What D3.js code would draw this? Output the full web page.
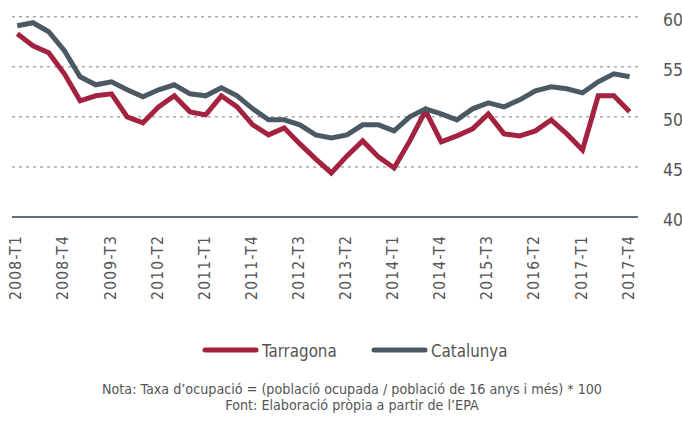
<!DOCTYPE html>
<html>
<head>
<meta charset="utf-8">
<script src="https://d3js.org/d3.v7.min.js"></script>
<style>
  body { margin: 0; background: #fff; }
  text { font-family: "DejaVu Sans Condensed", "Liberation Sans Narrow", sans-serif; fill: #555; }
  .grid line { stroke: #aaa; stroke-width: 1.5; stroke-dasharray: 3 4; }
</style>
</head>
<body>
<div id="chart"></div>
<script>
// quarters 2008-T1 .. 2017-T4
const quarters = [
  "2008-T1","2008-T2","2008-T3","2008-T4","2009-T1","2009-T2","2009-T3","2009-T4",
  "2010-T1","2010-T2","2010-T3","2010-T4","2011-T1","2011-T2","2011-T3","2011-T4",
  "2012-T1","2012-T2","2012-T3","2012-T4","2013-T1","2013-T2","2013-T3","2013-T4",
  "2014-T1","2014-T2","2014-T3","2014-T4","2015-T1","2015-T2","2015-T3","2015-T4",
  "2016-T1","2016-T2","2016-T3","2016-T4","2017-T1","2017-T2","2017-T3","2017-T4"
];
const tickLabels = ["2008-T1","2008-T4","2009-T3","2010-T2","2011-T1","2011-T4","2012-T3",
  "2013-T2","2014-T1","2014-T4","2015-T3","2016-T2","2017-T1","2017-T4"];

const tarragona = [58.3,57.1,56.4,54.3,51.6,52.1,52.3,50.0,49.4,51.0,
  52.1,50.5,50.2,52.1,51.0,49.2,48.2,48.9,47.3,45.8,
  44.4,46.1,47.6,46.0,44.9,47.6,50.6,47.5,48.1,48.8,
  50.3,48.3,48.1,48.6,49.7,48.3,46.7,52.1,52.1,50.5];
const catalunya = [59.1,59.4,58.5,56.6,54.0,53.2,53.5,52.7,52.0,52.7,
  53.2,52.3,52.1,52.9,52.1,50.8,49.7,49.7,49.2,48.2,
  47.9,48.2,49.2,49.2,48.6,50.0,50.8,50.3,49.7,50.8,
  51.4,51.0,51.7,52.6,53.0,52.8,52.4,53.5,54.3,54.0];

const yTicks = [40, 45, 50, 55, 60];

const series = [
  { name: "Tarragona", values: tarragona, color: "#a3223f" },
  { name: "Catalunya", values: catalunya, color: "#4a5963" }
];

const W = 682, H = 421;
const svg = d3.select("#chart").append("svg").attr("width", W).attr("height", H);

const x = d3.scalePoint().domain(quarters).range([17.3, 629.6]);
const y = d3.scaleLinear().domain([40, 60]).range([217, 16.7]);

// dotted gridlines
svg.append("g").attr("class", "grid")
  .selectAll("line").data(yTicks.filter(d => d > 40)).join("line")
  .attr("x1", 12).attr("x2", 638)
  .attr("y1", d => y(d)).attr("y2", d => y(d));

// base line
svg.append("line")
  .attr("x1", 12).attr("x2", 638)
  .attr("y1", y(40)).attr("y2", y(40))
  .attr("stroke", "#5f6e77").attr("stroke-width", 2);

// y labels on the right
svg.append("g").selectAll("text").data(yTicks).join("text")
  .attr("x", 663).attr("y", d => y(d) + 9)
  .attr("font-size", 17.5)
  .text(d => d);

// x labels, rotated
svg.append("g").selectAll("text").data(tickLabels).join("text")
  .attr("transform", d => `translate(${x(d) + 4},235) rotate(-90)`)
  .attr("text-anchor", "end")
  .attr("font-size", 15.5)
  .attr("letter-spacing", 1.2)
  .text(d => d);

// lines
const line = d3.line().x((d, i) => x(quarters[i])).y(d => y(d));
svg.append("g").selectAll("path").data(series).join("path")
  .attr("fill", "none")
  .attr("stroke", d => d.color)
  .attr("stroke-width", 5)
  .attr("d", d => line(d.values));

// legend
const leg = svg.append("g").selectAll("g").data(series).join("g")
  .attr("transform", (d, i) => `translate(${205 + i * 169},350)`);
leg.append("line")
  .attr("x1", 0).attr("x2", 51)
  .attr("stroke", d => d.color).attr("stroke-width", 5).attr("stroke-linecap", "round");
leg.append("text")
  .attr("x", 57).attr("y", 6.5)
  .attr("font-size", 16.8)
  .text(d => d.name);

// notes
svg.append("text")
  .attr("x", 352).attr("y", 394)
  .attr("text-anchor", "middle").attr("font-size", 14.2)
  .text("Nota: Taxa d’ocupació = (població ocupada / població de 16 anys i més) * 100");
svg.append("text")
  .attr("x", 352).attr("y", 410)
  .attr("text-anchor", "middle").attr("font-size", 14.2)
  .text("Font: Elaboració pròpia a partir de l’EPA");
</script>
</body>
</html>
